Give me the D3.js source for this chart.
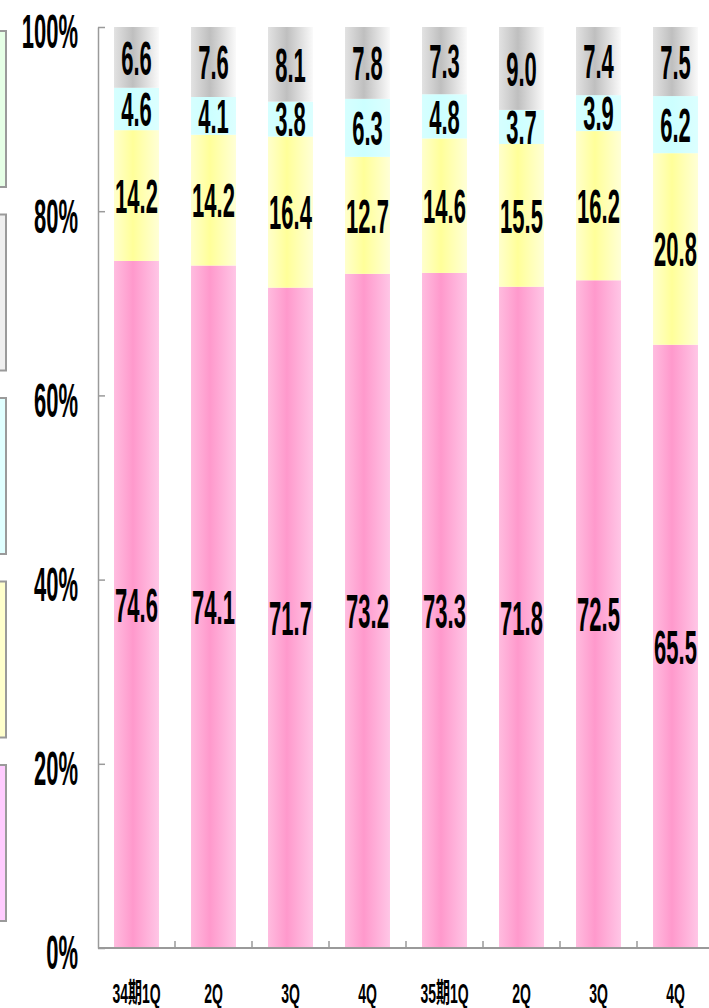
<!DOCTYPE html>
<html>
<head>
<meta charset="utf-8">
<script src="https://cdn.jsdelivr.net/npm/d3@7"></script>
<style>
  html, body { margin: 0; padding: 0; background: #fff; overflow: hidden; }
  svg { display: block; }
  text { font-family: "Liberation Sans", Arial, "Noto Sans CJK JP", sans-serif; font-weight: bold; fill: #000; }
</style>
</head>
<body>
<div id="chart"></div>
<script>
const categories = ["34期1Q", "2Q", "3Q", "4Q", "35期1Q", "2Q", "3Q", "4Q"];
// series bottom -> top
const seriesNames = ["s1", "s2", "s3", "s4"];
const s1 = [74.6, 74.1, 71.7, 73.2, 73.3, 71.8, 72.5, 65.5];
const s2 = [14.2, 14.2, 16.4, 12.7, 14.6, 15.5, 16.2, 20.8];
const s3 = [4.6, 4.1, 3.8, 6.3, 4.8, 3.7, 3.9, 6.2];
const s4 = [6.6, 7.6, 8.1, 7.8, 7.3, 9.0, 7.4, 7.5];
const yTicks = [0, 20, 40, 60, 80, 100];

// gradient stops per series: left, dark, right
const GRADS = {
  s1: ["#ffbcdf", "#ff99cc", "#ffc6e6"],
  s2: ["#ffffcc", "#ffff99", "#ffffd6"],
  s3: ["#d6ffff", "#ccffff", "#dcffff"],
  s4: ["#e2e2e2", "#bfbfbf", "#fafafa"]
};
// cut-off legend boxes at the left edge
const legendFills = ["#e6ffe6", "#efefef", "#e0ffff", "#ffffcc", "#ffccff"];

const W = 709, H = 1008;
const svg = d3.select("#chart").append("svg").attr("width", W).attr("height", H);

const defs = svg.append("defs");
seriesNames.forEach(k => {
  const g = defs.append("linearGradient").attr("id", "g-" + k)
    .attr("x1", "0%").attr("x2", "100%").attr("y1", "0%").attr("y2", "0%");
  g.append("stop").attr("offset", "0%").attr("stop-color", GRADS[k][0]);
  g.append("stop").attr("offset", "42%").attr("stop-color", GRADS[k][1]);
  g.append("stop").attr("offset", "100%").attr("stop-color", GRADS[k][2]);
});

// legend boxes (mostly outside the view)
svg.selectAll(".lg").data(legendFills).enter().append("rect")
  .attr("class", "lg")
  .attr("x", -40).attr("width", 46)
  .attr("y", (d, i) => 31 + i * 183.5)
  .attr("height", 156)
  .attr("fill", d => d)
  .attr("stroke", "#9a9a9a").attr("stroke-width", 2);

const plotLeft = 98, plotRight = 714, plotTop = 27, plotBottom = 948;

const x = d3.scaleBand()
  .domain(d3.range(categories.length))
  .range([plotLeft, plotRight])
  .paddingInner(0.416).paddingOuter(0.208);

const y = d3.scaleLinear().domain([0, 100]).range([plotBottom, plotTop]);

const rows = categories.map((c, i) => ({ i, s1: s1[i], s2: s2[i], s3: s3[i], s4: s4[i] }));
const stacked = d3.stack().keys(seriesNames)(rows);

const layers = svg.selectAll(".layer").data(stacked).enter().append("g")
  .attr("class", "layer")
  .attr("fill", d => `url(#g-${d.key})`);

layers.selectAll("rect").data(d => d).enter().append("rect")
  .attr("x", d => x(d.data.i))
  .attr("width", x.bandwidth())
  .attr("y", d => y(d[1]))
  .attr("height", d => y(d[0]) - y(d[1]));

// value labels
const FS = 22, SY = 2.2;
layers.selectAll("text").data(d => d.map(v => Object.assign({ key: d.key }, v))).enter().append("text")
  .attr("text-anchor", "middle")
  .attr("dy", "0.358em")
  .attr("font-size", FS)
  .attr("transform", d => `translate(${x(d.data.i) + x.bandwidth() / 2},${(y(d[0]) + y(d[1])) / 2}) scale(1,${SY})`)
  .text(d => d3.format(".1f")(d.data[d.key]));

// y axis
const yAxis = svg.append("g")
  .attr("transform", `translate(${plotLeft},0)`)
  .call(d3.axisLeft(y).tickValues(yTicks).tickFormat(d => d + "%")
    .tickSizeInner(-7).tickSizeOuter(0).tickPadding(20));
yAxis.select(".domain").attr("stroke", "#9a9a9a").attr("stroke-width", 1.5);
yAxis.selectAll(".tick line").attr("stroke", "#9a9a9a").attr("stroke-width", 1.5);
yAxis.selectAll(".tick text")
  .attr("font-size", 22).attr("font-family", null)
  .attr("dy", "0.44em")
  .attr("transform", "scale(1,2.15)");

// x axis
const xAxis = svg.append("g")
  .attr("transform", `translate(0,${plotBottom})`)
  .call(d3.axisBottom(x).tickFormat(i => categories[i]).tickSize(0));
xAxis.select(".domain").remove();
xAxis.append("line")
  .attr("x1", plotLeft).attr("x2", plotRight)
  .attr("stroke", "#9a9a9a").attr("stroke-width", 2);
xAxis.selectAll(".tick text")
  .attr("font-size", 14).attr("font-family", null)
  .attr("y", 0).attr("dy", 0)
  .attr("transform", "translate(0,55) scale(1,2.0)");

// category separator ticks
const step = x.step();
xAxis.selectAll(".sep").data(d3.range(1, categories.length)).enter().append("line")
  .attr("class", "sep")
  .attr("x1", i => x(i) - step * x.paddingInner() / 2)
  .attr("x2", i => x(i) - step * x.paddingInner() / 2)
  .attr("y1", 0).attr("y2", -7)
  .attr("stroke", "#9a9a9a").attr("stroke-width", 1.5);
</script>
</body>
</html>
